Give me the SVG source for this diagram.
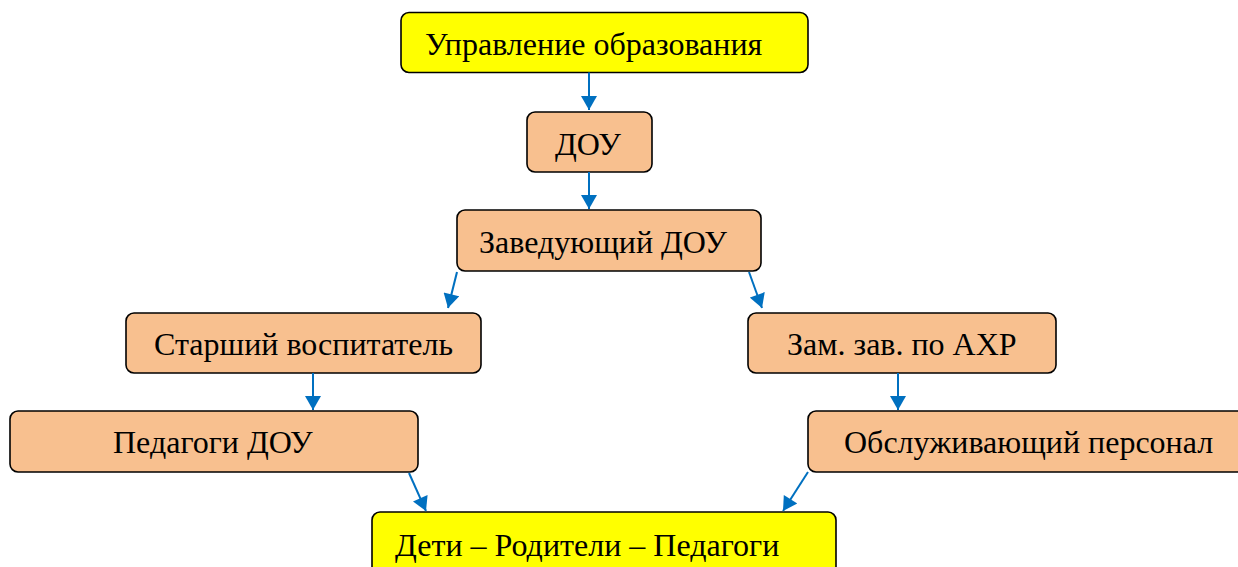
<svg xmlns="http://www.w3.org/2000/svg" width="1238" height="567" viewBox="0 0 1238 567">
<defs>
<marker id="ah" markerUnits="userSpaceOnUse" markerWidth="16" markerHeight="16" viewBox="0 0 14 16" refX="14" refY="8" orient="auto">
<path d="M0,0 L14,8 L0,16 Z" fill="#0070C0"/>
</marker>
<style>
.y{fill:#FFFF00;stroke:#000;stroke-width:1.6}
.o{fill:#F8C08F;stroke:#000;stroke-width:1.6}
.t{font-family:"Liberation Serif","Times New Roman",serif;font-size:32px;fill:#000}
.c line{stroke:#0070C0;stroke-width:2;marker-end:url(#ah)}
</style>
</defs>
<rect width="1238" height="567" fill="#fff"/>
<g id="n1"><rect class="y" x="401" y="12.5" width="407" height="60" rx="8"/><text class="t" x="425" y="55">Управление образования</text></g>
<g id="n2"><rect class="o" x="527" y="112" width="125" height="60" rx="8"/><text class="t" x="555" y="155">ДОУ</text></g>
<g id="n3"><rect class="o" x="457" y="210" width="304" height="61" rx="8"/><text class="t" x="479" y="253">Заведующий ДОУ</text></g>
<g id="n4"><rect class="o" x="126" y="313" width="355" height="60" rx="8"/><text class="t" x="154" y="355">Старший воспитатель</text></g>
<g id="n5"><rect class="o" x="748" y="313" width="308" height="60" rx="8"/><text class="t" x="787" y="355">Зам. зав. по АХР</text></g>
<g id="n6"><rect class="o" x="10" y="411" width="408" height="61" rx="8"/><text class="t" x="113" y="453">Педагоги ДОУ</text></g>
<g id="n7"><rect class="o" x="808" y="411" width="440" height="61" rx="8"/><text class="t" x="844" y="453">Обслуживающий персонал</text></g>
<g id="n8"><rect class="y" x="372" y="512" width="464" height="70" rx="8"/><text class="t" x="395" y="556">Дети – Родители – Педагоги</text></g>
<g id="connectors" class="c">
<line x1="589" y1="72.5" x2="589" y2="110"/>
<line x1="589" y1="172" x2="589" y2="209"/>
<line x1="457" y1="272" x2="448" y2="308"/>
<line x1="749" y1="272" x2="762" y2="308"/>
<line x1="313" y1="373" x2="313" y2="410"/>
<line x1="898" y1="373" x2="898" y2="410"/>
<line x1="409" y1="473" x2="426" y2="511"/>
<line x1="808" y1="472" x2="783" y2="511"/>
</g>
</svg>
